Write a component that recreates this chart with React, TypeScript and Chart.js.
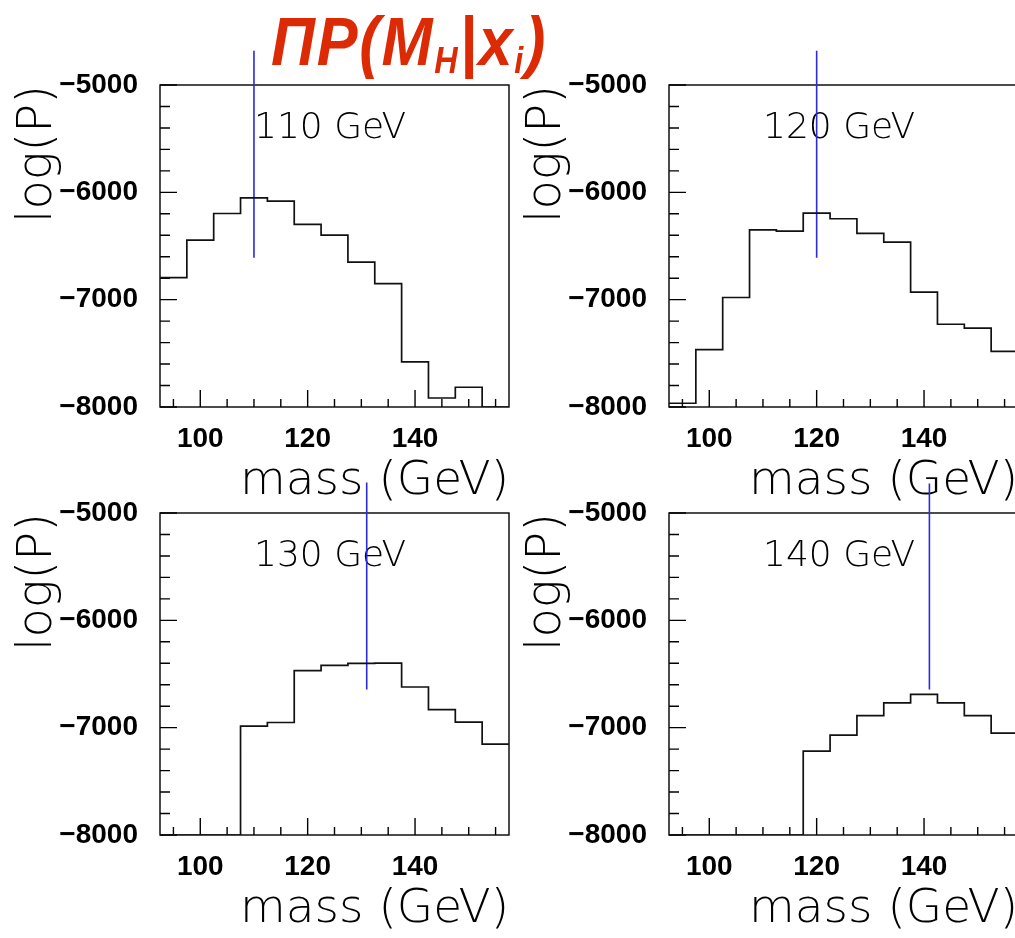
import React, { useEffect, useRef } from "react";
import { Chart, registerables } from "chart.js";

Chart.register(...registerables);

// ---- data ----
const binCenters = [95, 100, 105, 110, 115, 120, 125, 130, 135, 140, 145, 150, 155];
const binWidth = 5;
const logP110 = [-6794, -6445, -6197, -6051, -6082, -6299, -6399, -6651, -6850, -7580, -7916, -7816, -8000];
const logP120 = [-7965, -7465, -6980, -6349, -6362, -6194, -6246, -6383, -6464, -6930, -7229, -7266, -7481];
const logP130 = [-8000, -8000, -8000, -6986, -6952, -6469, -6419, -6401, -6398, -6621, -6831, -6949, -7154];
const logP140 = [-8000, -8000, -8000, -8000, -8000, -7219, -7070, -6887, -6769, -6689, -6769, -6887, -7051];
const panelLabels = ["110 GeV", "120 GeV", "130 GeV", "140 GeV"];
const markerMass = [110, 120, 131, 141];
const markerTop = [-4680, -4680, -4715, -4725];
const markerBottom = [-6610, -6610, -6645, -6645];
const xTickValues = [100, 120, 140];
const yTickValues = [-8000, -7000, -6000, -5000];
const xRange = [92.5, 157.5];
const yRange = [-8000, -5000];
const xMinorStep = 5;
const yMinorStep = 200;
const xTitle = "mass (GeV)";
const yTitle = "log(P)";

const seriesList = [logP110, logP120, logP130, logP140];

function histogramPoints(vals: number[]) {
  const pts = vals.map((v, i) => ({ x: binCenters[i] - binWidth / 2, y: v }));
  pts.push({ x: binCenters[vals.length - 1] + binWidth / 2, y: vals[vals.length - 1] });
  return pts;
}

const rootFramePlugin = {
  id: "rootFrame",
  beforeDatasetsDraw(chart: any, _args: any, opts: any) {
    const { ctx, chartArea } = chart;
    const xs = chart.scales.x;
    const ys = chart.scales.y;
    const { left, right, top, bottom } = chartArea;
    ctx.save();
    ctx.strokeStyle = "#000";
    ctx.lineWidth = 1.4;
    ctx.strokeRect(left, top, right - left, bottom - top);
    ctx.beginPath();
    for (let v = binCenters[0]; v <= xRange[1] + 1e-6; v += xMinorStep) {
      const px = xs.getPixelForValue(v);
      const major = xTickValues.includes(v);
      ctx.moveTo(px, bottom);
      ctx.lineTo(px, bottom - (major ? 17 : 8));
    }
    for (let v = yRange[0]; v <= yRange[1] + 1e-6; v += yMinorStep) {
      const py = ys.getPixelForValue(v);
      const major = yTickValues.includes(v);
      ctx.moveTo(left, py);
      ctx.lineTo(left + (major ? 17 : 10), py);
    }
    ctx.stroke();
    ctx.fillStyle = "#000";
    ctx.font = '300 36px "DejaVu Sans", sans-serif';
    ctx.textAlign = "left";
    ctx.textBaseline = "alphabetic";
    ctx.fillText(opts.label, left + 94, top + 53);
    ctx.restore();
  },
};

function Panel({ index, x, y }: { index: number; x: number; y: number }) {
  const ref = useRef<HTMLCanvasElement | null>(null);
  useEffect(() => {
    if (!ref.current) return;
    const chart = new Chart(ref.current, {
      type: "line",
      data: {
        datasets: [
          {
            data: histogramPoints(seriesList[index]),
            stepped: "before",
            borderColor: "#111",
            borderWidth: 1.7,
            pointRadius: 0,
            fill: false,
          },
          {
            data: [
              { x: markerMass[index], y: markerTop[index] },
              { x: markerMass[index], y: markerBottom[index] },
            ],
            borderColor: "#2b2bdc",
            borderWidth: 1.6,
            pointRadius: 0,
            fill: false,
            clip: false,
          },
        ],
      } as any,
      options: {
        responsive: false,
        animation: false,
        events: [],
        layout: { padding: { top: 85, right: 11, bottom: 0, left: 0 } },
        plugins: {
          legend: { display: false },
          tooltip: { enabled: false },
          rootFrame: { label: panelLabels[index] },
        } as any,
        scales: {
          x: {
            type: "linear",
            min: xRange[0],
            max: xRange[1],
            afterBuildTicks: (s: any) => {
              s.ticks = xTickValues.map((v) => ({ value: v }));
            },
            afterFit: (s: any) => {
              s.height = 103;
              s.paddingLeft = 0;
              s.paddingRight = 0;
            },
            grid: { display: false, drawTicks: false },
            border: { display: false },
            ticks: {
              padding: 15,
              autoSkip: false,
              maxRotation: 0,
              color: "#000",
              font: { family: '"Liberation Sans", Arial, sans-serif', weight: "bold", size: 28 },
              callback: (v: any) => String(v),
            },
            title: {
              display: true,
              text: xTitle,
              align: "end",
              color: "#000",
              font: { family: '"DejaVu Sans", sans-serif', weight: 200, size: 47 },
              padding: { top: 0, bottom: 0 },
            },
          },
          y: {
            type: "linear",
            min: yRange[0],
            max: yRange[1],
            afterBuildTicks: (s: any) => {
              s.ticks = yTickValues.map((v) => ({ value: v }));
            },
            afterFit: (s: any) => {
              s.width = 160;
              s.paddingTop = 0;
              s.paddingBottom = 0;
            },
            grid: { display: false, drawTicks: false },
            border: { display: false },
            ticks: {
              padding: 22,
              autoSkip: false,
              color: "#000",
              font: { family: '"Liberation Sans", Arial, sans-serif', weight: "bold", size: 28 },
              callback: (v: any) => String(v).replace("-", "\u2212"),
            },
            title: {
              display: true,
              text: yTitle,
              align: "end",
              color: "#000",
              font: { family: '"DejaVu Sans", sans-serif', weight: 200, size: 48 },
              padding: { top: 10, bottom: 0 },
            },
          },
        },
      } as any,
      plugins: [rootFramePlugin],
    });
    return () => chart.destroy();
  }, [index]);
  return (
    <canvas
      ref={ref}
      width={520}
      height={510}
      style={{ position: "absolute", left: x, top: y, width: 520, height: 510 }}
    />
  );
}

export default function App() {
  return (
    <div
      style={{
        position: "fixed",
        left: 0,
        top: 0,
        width: 1015,
        height: 938,
        overflow: "hidden",
        background: "#fff",
      }}
    >
      <Panel index={0} x={0} y={0} />
      <Panel index={1} x={509} y={0} />
      <Panel index={2} x={0} y={428} />
      <Panel index={3} x={509} y={428} />
      <div
        style={{
          position: "absolute",
          left: 271,
          top: 7,
          color: "#dc2a04",
          fontFamily: '"Liberation Sans", Arial, sans-serif',
          fontWeight: "bold",
          fontStyle: "italic",
          fontSize: 68,
          lineHeight: "68px",
          letterSpacing: 2,
          whiteSpace: "nowrap",
          transform: "scaleX(0.9)",
          transformOrigin: "left top",
        }}
      >
        ΠP(M<span style={{ fontSize: 36, position: "relative", top: 8 }}>H</span>|x
        <span style={{ fontSize: 36, position: "relative", top: 8 }}>i</span>)
      </div>
    </div>
  );
}
